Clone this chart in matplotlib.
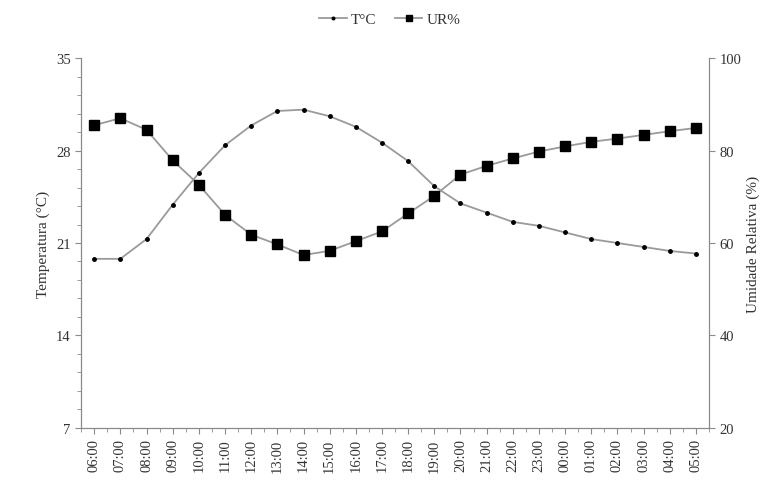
import numpy as np
import matplotlib.pyplot as plt
from matplotlib.ticker import MultipleLocator

plt.rcParams['font.family'] = ['Liberation Serif', 'DejaVu Serif']

# Horas do dia
horas = ['06:00', '07:00', '08:00', '09:00', '10:00', '11:00', '12:00', '13:00',
         '14:00', '15:00', '16:00', '17:00', '18:00', '19:00', '20:00', '21:00',
         '22:00', '23:00', '00:00', '01:00', '02:00', '03:00', '04:00', '05:00']

# Temperatura (°C)
temp = [19.8, 19.8, 21.3, 23.9, 26.3, 28.4, 29.9, 31.0, 31.1, 30.6, 29.8, 28.6,
        27.2, 25.3, 24.0, 23.3, 22.6, 22.3, 21.8, 21.3, 21.0, 20.7, 20.4, 20.2]

# Umidade relativa (%)
ur = [85.5, 87.0, 84.5, 77.9, 72.6, 66.1, 61.8, 59.7, 57.4, 58.3, 60.4, 62.5,
      66.4, 70.2, 74.8, 76.7, 78.3, 79.8, 80.9, 81.9, 82.6, 83.4, 84.2, 84.9]

x = np.arange(len(horas))
cinza = '#9a9a9a'

fig = plt.figure(figsize=(7.8, 4.89), dpi=100)
ax = fig.add_axes([0.104, 0.123, 0.805, 0.756])
ax2 = ax.twinx()

l1, = ax.plot(x, temp, color=cinza, lw=1.3, marker='o', ms=2.5,
              mfc='black', mec='black', label='T°C')
l2, = ax2.plot(x, ur, color=cinza, lw=1.3, marker='s', ms=6.5,
               mfc='black', mec='black', label='UR%')

ax.set_xlim(-0.5, len(horas) - 0.5)
ax.set_ylim(7, 35)
ax.set_yticks([7, 14, 21, 28, 35])
ax.yaxis.set_minor_locator(MultipleLocator(1.4))
ax2.set_ylim(20, 100)
ax2.set_yticks([20, 40, 60, 80, 100])

ax.set_xticks(x)
ax.set_xticklabels(horas, rotation=90)
ax.set_xticks(np.arange(-0.5, len(horas)), minor=True)

for a in (ax, ax2):
    a.spines['top'].set_visible(False)
    for s in ('left', 'right', 'bottom'):
        a.spines[s].set_color('#8a8a8a')
    a.tick_params(which='both', colors='#8a8a8a', labelcolor='#333333', labelsize=10.5)
    a.tick_params(which='major', length=4)
    a.tick_params(which='minor', length=3)

ax.set_ylabel('Temperatura (°C)', fontsize=11, color='#333333')
ax2.set_ylabel('Umidade Relativa (%)', fontsize=11, color='#333333', rotation=90)

fig.legend(handles=[l1, l2], loc='center', bbox_to_anchor=(0.5, 0.958), ncol=2,
           frameon=False, fontsize=11, handlelength=1.8, columnspacing=1.2,
           handletextpad=0.3, markerscale=0.75, labelcolor='#333333')

fig.savefig('out.png', dpi=100)
